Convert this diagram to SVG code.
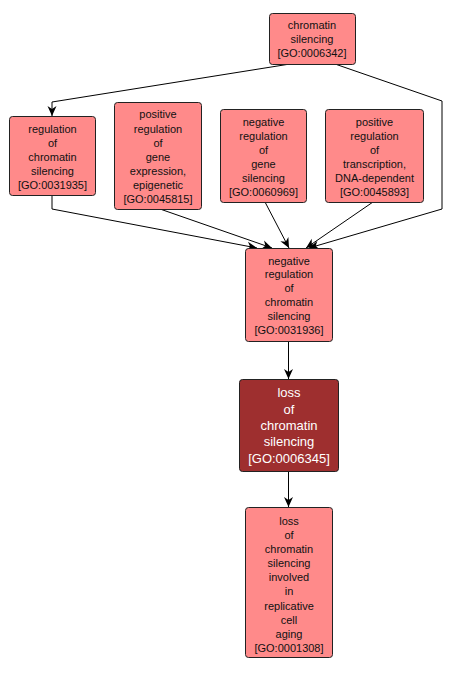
<svg xmlns="http://www.w3.org/2000/svg" width="453" height="673" viewBox="0 0 453 673">
<style>
.n rect{fill:#ff8a8a;stroke:#222;stroke-width:1}
.n text{font-family:"Liberation Sans",Arial,sans-serif;font-size:11px;fill:#111;text-anchor:middle}
.d rect{fill:#9e2f2f;stroke:#222;stroke-width:1}
.d text{font-family:"Liberation Sans",Arial,sans-serif;font-size:13px;fill:#fff;text-anchor:middle}
.e path{fill:none;stroke:#000;stroke-width:1}
</style>
<defs>
<marker id="a" viewBox="0 0 10 10" refX="10" refY="5" markerWidth="10" markerHeight="10" markerUnits="userSpaceOnUse" orient="auto">
<path d="M0,0.5 L10,5 L0,9.5 L3,5 z" fill="#000"/>
</marker>
</defs>
<rect width="453" height="673" fill="#fff"/>
<g class="e">
<path d="M290,64 L52,102 L52,116" marker-end="url(#a)"/>
<path d="M335,64 L442,101 L442,209 L309,248" marker-end="url(#a)"/>
<path d="M52,195 L52,209 L257,248" marker-end="url(#a)"/>
<path d="M160,209 L272,248" marker-end="url(#a)"/>
<path d="M265,202 L289,248" marker-end="url(#a)"/>
<path d="M373,202 L306,248" marker-end="url(#a)"/>
<path d="M288.5,341 L288.5,379" marker-end="url(#a)"/>
<path d="M288.5,471 L288.5,507" marker-end="url(#a)"/>
</g>
<g id="GO0006342" class="n">
<rect x="269.5" y="13.5" width="86" height="51" rx="3"/>
<text x="312" y="29">chromatin</text>
<text x="312" y="43">silencing</text>
<text x="312" y="57">[GO:0006342]</text>
</g>
<g id="GO0031935" class="n">
<rect x="9.5" y="116.5" width="86" height="79" rx="3"/>
<text x="52.5" y="133">regulation</text>
<text x="52.5" y="147">of</text>
<text x="52.5" y="161">chromatin</text>
<text x="52.5" y="175">silencing</text>
<text x="52.5" y="189">[GO:0031935]</text>
</g>
<g id="GO0045815" class="n">
<rect x="114.5" y="102.5" width="87" height="107" rx="3"/>
<text x="158" y="118">positive</text>
<text x="158" y="133">regulation</text>
<text x="158" y="147">of</text>
<text x="158" y="161">gene</text>
<text x="158" y="175">expression,</text>
<text x="158" y="189">epigenetic</text>
<text x="158" y="203">[GO:0045815]</text>
</g>
<g id="GO0060969" class="n">
<rect x="220.5" y="109.5" width="86" height="93" rx="3"/>
<text x="263.5" y="126">negative</text>
<text x="263.5" y="140">regulation</text>
<text x="263.5" y="154">of</text>
<text x="263.5" y="168">gene</text>
<text x="263.5" y="182">silencing</text>
<text x="263.5" y="196">[GO:0060969]</text>
</g>
<g id="GO0045893" class="n">
<rect x="325.5" y="109.5" width="98" height="93" rx="3"/>
<text x="374.5" y="126">positive</text>
<text x="374.5" y="140">regulation</text>
<text x="374.5" y="154">of</text>
<text x="374.5" y="168">transcription,</text>
<text x="374.5" y="182">DNA-dependent</text>
<text x="374.5" y="196">[GO:0045893]</text>
</g>
<g id="GO0031936" class="n">
<rect x="245.5" y="248.5" width="87" height="93" rx="3"/>
<text x="289" y="265">negative</text>
<text x="289" y="278">regulation</text>
<text x="289" y="292">of</text>
<text x="289" y="306">chromatin</text>
<text x="289" y="320">silencing</text>
<text x="289" y="334">[GO:0031936]</text>
</g>
<g id="GO0006345" class="d">
<rect x="239.5" y="379.5" width="99" height="92" rx="3"/>
<text x="289" y="397">loss</text>
<text x="289" y="414">of</text>
<text x="289" y="430">chromatin</text>
<text x="289" y="446">silencing</text>
<text x="289" y="463">[GO:0006345]</text>
</g>
<g id="GO0001308" class="n">
<rect x="245.5" y="507.5" width="87" height="150" rx="3"/>
<text x="289" y="525">loss</text>
<text x="289" y="539">of</text>
<text x="289" y="553">chromatin</text>
<text x="289" y="567">silencing</text>
<text x="289" y="581">involved</text>
<text x="289" y="595">in</text>
<text x="289" y="610">replicative</text>
<text x="289" y="624">cell</text>
<text x="289" y="638">aging</text>
<text x="289" y="652">[GO:0001308]</text>
</g>
</svg>
